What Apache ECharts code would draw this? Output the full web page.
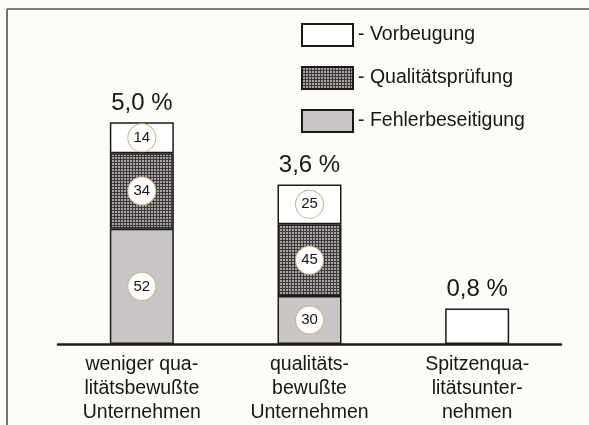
<!DOCTYPE html>
<html>
<head>
<meta charset="utf-8">
<script src="https://cdn.jsdelivr.net/npm/echarts@6/dist/echarts.min.js"></script>
<style>
  html, body { margin: 0; padding: 0; background: #fcfcf8; }
  #chart { width: 589px; height: 425px; }
</style>
</head>
<body>
<div id="chart"></div>
<script>
// Kategorien (x-Achse)
var categories = ['weniger qua-\nlitätsbewußte\nUnternehmen', 'qualitäts-\nbewußte\nUnternehmen', 'Spitzenqua-\nlitätsunter-\nnehmen'];
// Gesamtanteil in %
var totals = [5.0, 3.6, 0.8];
// Segmenthöhen (Anteil am Umsatz in %)
var fehlerbeseitigung = [2.6, 1.08, null];
var qualitaetspruefung = [1.7, 1.62, null];
var vorbeugung = [0.7, 0.9, 0.8];
// Prozentanteile in den Kreisen
var fehlerShare = [52, 30, null];
var pruefShare = [34, 45, null];
var vorbeugShare = [14, 25, null];

var FONT = 'Liberation Sans';
var INK = '#161616';

// Kreuzschraffur für Qualitätsprüfung
function hatch() {
  var c = document.createElement('canvas');
  c.width = 3; c.height = 3;
  var ctx = c.getContext('2d');
  ctx.fillStyle = '#a9a4a4';
  ctx.fillRect(0, 0, 3, 3);
  ctx.fillStyle = '#3e3a3a';
  ctx.fillRect(0, 0, 3, 1);
  ctx.fillRect(0, 0, 1, 3);
  return c;
}

function circleLabel(shares) {
  return {
    show: true,
    position: 'inside',
    formatter: function (p) {
      var v = shares[p.dataIndex];
      return v == null ? '' : '{c|' + v + '}';
    },
    rich: {
      c: {
        width: 27, height: 27, lineHeight: 27, borderRadius: 14,
        backgroundColor: '#ffffff', borderColor: '#c2b68f', borderWidth: 1,
        align: 'center', fontSize: 15, color: INK, fontFamily: FONT
      }
    }
  };
}

var chart = echarts.init(document.getElementById('chart'));

var option = {
  backgroundColor: '#fcfcf8',
  animation: false,
  textStyle: { fontFamily: FONT, color: INK },
  grid: { left: 58, right: 28, top: 78, bottom: 81 },
  legend: {
    orient: 'vertical',
    left: 296,
    top: 18,
    itemWidth: 51,
    itemHeight: 22,
    itemGap: 19,
    icon: 'rect',
    data: ['Vorbeugung', 'Qualitätsprüfung', 'Fehlerbeseitigung'],
    formatter: '- {name}',
    textStyle: { fontSize: 19.5, color: INK, fontFamily: FONT }
  },
  xAxis: {
    type: 'category',
    data: categories,
    axisLine: { lineStyle: { color: '#1a1a1a', width: 2.5 } },
    axisTick: { show: false },
    axisLabel: { fontSize: 19.5, lineHeight: 24, color: INK, fontFamily: FONT, margin: 9, interval: 0 }
  },
  yAxis: {
    type: 'value',
    min: 0,
    max: 6,
    show: false
  },
  series: [
    {
      name: 'Fehlerbeseitigung',
      type: 'bar',
      stack: 'kosten',
      barWidth: 64,
      data: fehlerbeseitigung,
      itemStyle: { color: '#c9c5c4', borderColor: '#1a1a1a', borderWidth: 1.5 },
      label: circleLabel(fehlerShare)
    },
    {
      name: 'Qualitätsprüfung',
      type: 'bar',
      stack: 'kosten',
      barWidth: 64,
      data: qualitaetspruefung,
      itemStyle: { color: { image: hatch(), repeat: 'repeat' }, borderColor: '#1a1a1a', borderWidth: 1.5 },
      label: circleLabel(pruefShare)
    },
    {
      name: 'Vorbeugung',
      type: 'bar',
      stack: 'kosten',
      barWidth: 64,
      data: vorbeugung,
      itemStyle: { color: '#ffffff', borderColor: '#1a1a1a', borderWidth: 1.5 },
      label: circleLabel(vorbeugShare)
    },
    {
      name: 'Gesamt',
      type: 'scatter',
      symbolSize: 0,
      data: totals,
      silent: true,
      itemStyle: { color: INK, opacity: 1 },
      label: {
        show: true,
        position: 'top',
        distance: 7,
        fontSize: 24,
        color: INK,
        fontFamily: FONT,
        formatter: function (p) {
          return totals[p.dataIndex].toFixed(1).replace('.', ',') + ' %';
        }
      }
    }
  ],
  graphic: [
    { type: 'line', shape: { x1: 7, y1: 9, x2: 589, y2: 9 }, style: { stroke: '#555', lineWidth: 1.5 } },
    { type: 'line', shape: { x1: 7, y1: 9, x2: 7, y2: 425 }, style: { stroke: '#444', lineWidth: 1.5 } }
  ]
};

chart.setOption(option);
</script>
</body>
</html>
